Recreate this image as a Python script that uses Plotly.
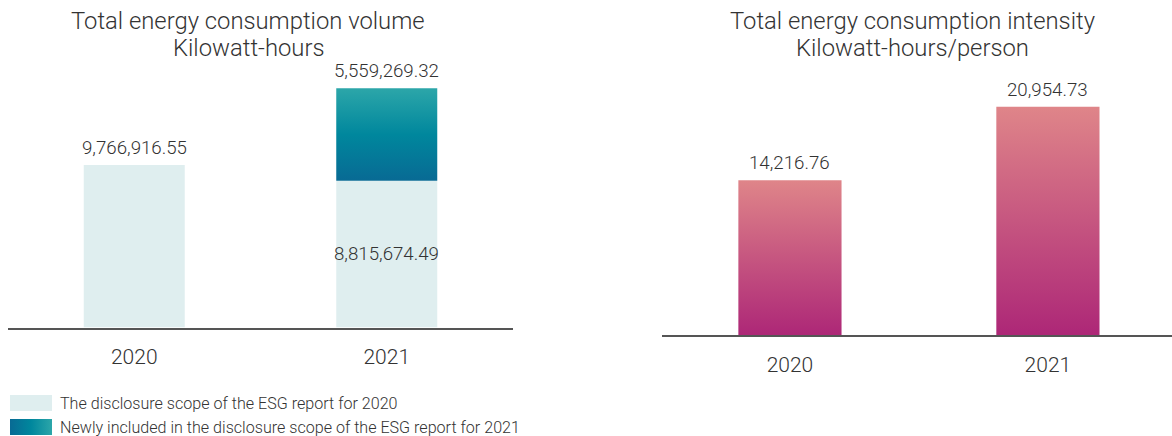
import plotly.graph_objects as go

# ---------------- data ----------------
years = ["2020", "2021"]
volume_base = [9766916.55, 8815674.49]       # disclosure scope of 2020 report
volume_new = [None, 5559269.32]              # newly included in 2021 scope
volume_base_labels = ["9,766,916.55", "8,815,674.49"]
volume_new_labels = [None, "5,559,269.32"]
intensity = [14216.76, 20954.73]
intensity_labels = ["14,216.76", "20,954.73"]

title_left = ["Total energy consumption volume", "Kilowatt-hours"]
title_right = ["Total energy consumption intensity", "Kilowatt-hours/person"]
legend_labels = ["The disclosure scope of the ESG report for 2020",
                 "Newly included in the disclosure scope of the ESG report for 2021"]

# ---------------- style ----------------
W, H = 1172, 436
FONT = "Roboto, Liberation Sans"
WT = 300
TXT = "#333333"
LIGHT = "#dfeeef"
TEAL = [[0, "#086a94"], [0.5, "#00879d"], [1, "#2ca6a9"]]
PINK = [[0, "#ad2777"], [1, "#df8589"]]
BW = 0.4


def px(x):
    return x / W


def py(y):
    return (H - y) / H


def fnt(size):
    return dict(size=size, color=TXT, family=FONT, weight=WT)


fig = go.Figure()


def grad_bar(x, base, top, cs, xa, ya, w=BW, orient="vertical"):
    fig.add_trace(go.Scatter(
        x=[x - w / 2, x + w / 2, x + w / 2, x - w / 2, x - w / 2],
        y=[base, base, top, top, base],
        mode="lines", line=dict(width=0, color="rgba(0,0,0,0)"),
        fill="toself", fillgradient=dict(type=orient, colorscale=cs),
        hoverinfo="skip", showlegend=False, xaxis=xa, yaxis=ya))


# left panel: light base bars
fig.add_trace(go.Bar(x=[0, 1], y=volume_base, width=BW, marker=dict(color=LIGHT, line=dict(width=0)),
                     showlegend=False, hoverinfo="skip", xaxis="x", yaxis="y"))
# left panel: gradient segment for newly included scope
for i, v in enumerate(volume_new):
    if v is not None:
        grad_bar(i, volume_base[i], volume_base[i] + v, TEAL, "x", "y")

# right panel: gradient bars
for i, v in enumerate(intensity):
    grad_bar(i, 0, v, PINK, "x2", "y2")

# legend gradient swatch (hidden axes)
grad_bar(0.5, 0, 1, TEAL, "x3", "y3", w=1, orient="horizontal")

annotations = []
LBL = 18.7
for i, v in enumerate(volume_base):
    if volume_new[i] is None:
        annotations.append(dict(x=i, y=v, xref="x", yref="y", text=volume_base_labels[i], showarrow=False,
                                yanchor="bottom", yshift=4, font=fnt(LBL)))
    else:
        annotations.append(dict(x=i, y=v / 2, xref="x", yref="y", text=volume_base_labels[i], showarrow=False,
                                yanchor="middle", font=fnt(LBL)))
        annotations.append(dict(x=i, y=v + volume_new[i], xref="x", yref="y", text=volume_new_labels[i],
                                showarrow=False, yanchor="bottom", yshift=4, font=fnt(LBL)))
for i, v in enumerate(intensity):
    annotations.append(dict(x=i, y=v, xref="x2", yref="y2", text=intensity_labels[i], showarrow=False,
                            yanchor="bottom", yshift=4, font=fnt(LBL)))

# titles
for j, t in enumerate(title_left):
    annotations.append(dict(x=px(248), y=py(21 + 27 * j), xref="paper", yref="paper", text=t, showarrow=False,
                            xanchor="center", yanchor="middle", font=fnt(23.8)))
for j, t in enumerate(title_right):
    annotations.append(dict(x=px(912), y=py(21 + 27 * j), xref="paper", yref="paper", text=t, showarrow=False,
                            xanchor="center", yanchor="middle", font=fnt(23.8)))

# legend texts
for j, t in enumerate(legend_labels):
    annotations.append(dict(x=px(58), y=py(403 + 24 * j), xref="paper", yref="paper", text=t, showarrow=False,
                            xanchor="left", yanchor="middle", font=fnt(16.1)))

shapes = [dict(type="rect", xref="paper", yref="paper", x0=px(10), x1=px(52), y0=py(411), y1=py(395),
               fillcolor=LIGHT, line=dict(width=0))]

axis_common = dict(showgrid=False, zeroline=False, showline=True, linecolor="#555555", linewidth=1.5,
                   tickvals=[0, 1], ticktext=years, ticks="outside", ticklen=10, tickcolor="rgba(0,0,0,0)",
                   tickfont=fnt(21), fixedrange=True)
yaxis_common = dict(visible=False, showgrid=False, zeroline=False, fixedrange=True)

fig.update_layout(
    width=W, height=H, margin=dict(l=0, r=0, t=0, b=0),
    paper_bgcolor="white", plot_bgcolor="white",
    barmode="overlay", showlegend=False,
    xaxis=dict(domain=[px(8), px(513)], range=[-0.5, 1.5], anchor="y", **axis_common),
    yaxis=dict(domain=[py(327.5), py(60)], range=[0, 267.5 / (162.5 / volume_base[0])], anchor="x", **yaxis_common),
    xaxis2=dict(domain=[px(662), 1.0], range=[-0.496, 1.481], anchor="y2", **axis_common),
    yaxis2=dict(domain=[py(335), py(60)], range=[0, 275 / 0.01089], anchor="x2", **yaxis_common),
    xaxis3=dict(domain=[px(10), px(52)], range=[0, 1], visible=False, anchor="y3", fixedrange=True),
    yaxis3=dict(domain=[py(435), py(419)], range=[0, 1], visible=False, anchor="x3", fixedrange=True),
    annotations=annotations, shapes=shapes,
)

fig.write_html("out.html")
